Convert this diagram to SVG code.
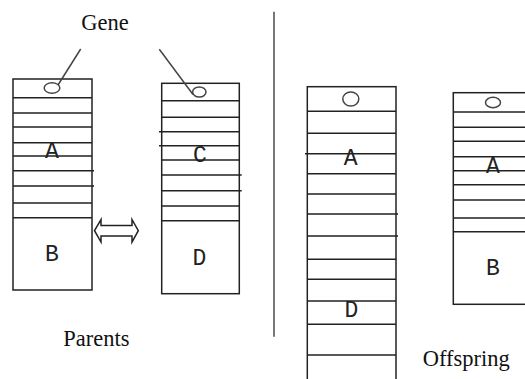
<svg xmlns="http://www.w3.org/2000/svg" width="525" height="379" viewBox="0 0 525 379">
<style>
.box{fill:#fff;stroke:#222;stroke-width:1.5}
.band{stroke:#222;stroke-width:1.5;fill:none}
.gene{fill:none;stroke:#444;stroke-width:1.5}
.lbl{font-family:"Liberation Mono","DejaVu Sans Mono",monospace;font-size:23px;fill:#222;text-anchor:middle}
.cap{font-family:"Liberation Serif","Times New Roman",serif;font-size:22.5px;fill:#111;text-anchor:middle}
.ptr{stroke:#444;stroke-width:1.5;fill:none}
</style>
<rect width="525" height="379" fill="#fff"/>

<g id="parent1">
<rect class="box" x="13" y="79" width="79" height="211"/>
<path class="band" d="M13 97.7H92M13 113H92M13 127H92M13 142.7H92M13 156H92M13 170.7H94M13 186H94M13 203H92M13 217.7H92"/>
<ellipse class="gene" cx="52" cy="88" rx="7.8" ry="5.3"/>
<text class="lbl" x="52" y="158">A</text>
<text class="lbl" x="52" y="261">B</text>
</g>

<g id="parent2">
<rect class="box" x="161.7" y="83.3" width="77.6" height="210.4"/>
<path class="band" d="M161.7 100.7H239.3M161.7 117.3H239.3M159 131.7H239.3M159 145.7H239.3M161.7 160H239.3M161.7 175H241.7M161.7 190.7H241.7M161.7 206H239.3M161.7 220.7H239.3"/>
<ellipse class="gene" cx="199.3" cy="92" rx="6.7" ry="5"/>
<text class="lbl" x="200" y="162">C</text>
<text class="lbl" x="199.3" y="265">D</text>
</g>

<g id="offspring1">
<rect class="box" x="307.3" y="86.7" width="88.7" height="310"/>
<path class="band" d="M307.3 111.3H396M307.3 133.3H396M305 153.7H396M307.3 173.7H396M307.3 194H396M307.3 214H398M307.3 236H398M307.3 259.3H396M307.3 279.3H396M307.3 301H396M307.3 324.3H396M307.3 355H396"/>
<ellipse class="gene" cx="350.8" cy="99" rx="8" ry="7"/>
<text class="lbl" x="350.7" y="165">A</text>
<text class="lbl" x="351.5" y="317">D</text>
</g>

<g id="offspring2">
<rect class="box" x="453.3" y="92.7" width="80" height="211.6"/>
<path class="band" d="M453.3 112H533M453.3 127.3H533M453.3 141.3H533M453.3 156.7H533M453.3 170.7H533M453.3 184.7H533M453.3 200H533M453.3 218H533M453.3 231.7H533"/>
<ellipse class="gene" cx="493" cy="102.5" rx="7.5" ry="5.2"/>
<text class="lbl" x="492.8" y="172.7">A</text>
<text class="lbl" x="493" y="275">B</text>
</g>

<g id="divider">
<line x1="274" y1="11.7" x2="274" y2="336.7" stroke="#777" stroke-width="2"/>
</g>

<g id="labels">
<text class="cap" x="105" y="30">Gene</text>
<text class="cap" x="96.3" y="345.7">Parents</text>
<text class="cap" x="466.3" y="365.7">Offspring</text>
</g>

<g id="connectors">
<line class="ptr" x1="80.7" y1="49" x2="58" y2="85"/>
<line class="ptr" x1="159.3" y1="49.3" x2="193" y2="94.5"/>
<polygon points="94.5,230.7 101,219.5 101,225.5 132,225.5 132,219.5 138.3,230.7 132,242 132,236 101,236 101,242" fill="#fff" stroke="#222" stroke-width="1.5" stroke-linejoin="miter"/>
</g>
</svg>
